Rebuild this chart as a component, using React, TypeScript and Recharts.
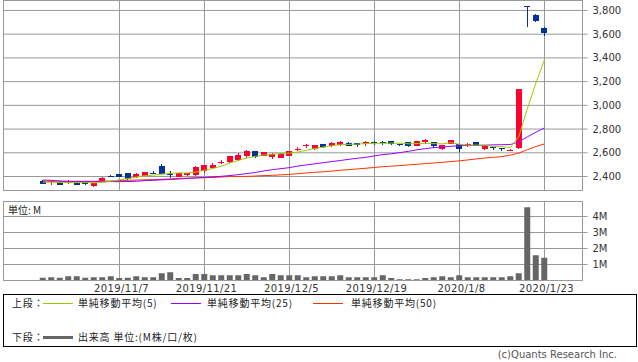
import React from 'react';
import {
  Bar,
  CartesianGrid,
  ComposedChart,
  Line,
  XAxis,
  YAxis,
} from 'recharts';

// trading days shown (10/24 .. 1/23)
const dates = [
  '2019/10/24', '2019/10/25', '2019/10/28', '2019/10/29', '2019/10/30', '2019/10/31', '2019/11/1', '2019/11/5', '2019/11/6', '2019/11/7',
  '2019/11/8', '2019/11/11', '2019/11/12', '2019/11/13', '2019/11/14', '2019/11/15', '2019/11/18', '2019/11/19', '2019/11/20', '2019/11/21',
  '2019/11/22', '2019/11/25', '2019/11/26', '2019/11/27', '2019/11/28', '2019/11/29', '2019/12/2', '2019/12/3', '2019/12/4', '2019/12/5',
  '2019/12/6', '2019/12/9', '2019/12/10', '2019/12/11', '2019/12/12', '2019/12/13', '2019/12/16', '2019/12/17', '2019/12/18', '2019/12/19',
  '2019/12/20', '2019/12/23', '2019/12/24', '2019/12/25', '2019/12/26', '2019/12/27', '2019/12/30', '2020/1/6', '2020/1/7', '2020/1/8',
  '2020/1/9', '2020/1/10', '2020/1/14', '2020/1/15', '2020/1/16', '2020/1/17', '2020/1/20', '2020/1/21', '2020/1/22', '2020/1/23',
];

const opens = [
  2366, 2360, 2355, 2343, 2349, 2351, 2318, 2358, 2406, 2420,
  2428, 2394, 2406, 2433, 2487, 2422, 2398, 2409, 2412, 2444,
  2473, 2519, 2521, 2541, 2569, 2611, 2577, 2563, 2558, 2575,
  2632, 2660, 2634, 2670, 2656, 2662, 2685, 2681, 2670, 2687,
  2687, 2696, 2673, 2687, 2657, 2687, 2687, 2628, 2676, 2670,
  2668, 2687, 2634, 2645, 2638, 2624, 2639, 3836, 3760, 3653,
];
const highs = [
  2370, 2372, 2358, 2368, 2352, 2353, 2346, 2392, 2415, 2423,
  2432, 2430, 2440, 2443, 2506, 2450, 2432, 2431, 2488, 2496,
  2510, 2535, 2573, 2595, 2620, 2615, 2608, 2595, 2596, 2618,
  2650, 2677, 2668, 2673, 2690, 2703, 2688, 2684, 2702, 2700,
  2700, 2700, 2676, 2690, 2700, 2718, 2690, 2665, 2708, 2675,
  2686, 2690, 2665, 2648, 2640, 2635, 3137, 3840, 3770, 3661,
];
const lows = [
  2338, 2330, 2325, 2334, 2325, 2325, 2315, 2355, 2392, 2392,
  2372, 2385, 2403, 2419, 2420, 2388, 2396, 2405, 2408, 2428,
  2466, 2505, 2518, 2528, 2560, 2557, 2574, 2547, 2555, 2572,
  2618, 2643, 2620, 2638, 2650, 2659, 2653, 2648, 2660, 2665,
  2662, 2667, 2660, 2645, 2655, 2675, 2640, 2620, 2672, 2610,
  2645, 2655, 2622, 2625, 2612, 2618, 2636, 3661, 3700, 3585,
];
const closes = [
  2341, 2363, 2327, 2366, 2327, 2337, 2343, 2386, 2403, 2394,
  2375, 2417, 2436, 2430, 2425, 2419, 2429, 2428, 2484, 2493,
  2501, 2522, 2569, 2583, 2611, 2563, 2605, 2592, 2592, 2614,
  2634, 2662, 2662, 2648, 2681, 2693, 2656, 2668, 2690, 2684,
  2684, 2670, 2670, 2658, 2696, 2704, 2658, 2662, 2704, 2628,
  2671, 2658, 2662, 2642, 2635, 2627, 3135, 3830, 3712, 3611,
];
// volume, millions
const volumes = [
  0.17, 0.21, 0.17, 0.27, 0.27, 0.17, 0.21, 0.21, 0.27, 0.15,
  0.17, 0.27, 0.21, 0.21, 0.46, 0.52, 0.15, 0.15, 0.4, 0.4,
  0.33, 0.33, 0.33, 0.33, 0.4, 0.33, 0.21, 0.4, 0.33, 0.33,
  0.33, 0.21, 0.27, 0.27, 0.27, 0.33, 0.21, 0.21, 0.21, 0.21,
  0.33, 0.15, 0.08, 0.08, 0.08, 0.15, 0.21, 0.27, 0.21, 0.33,
  0.21, 0.21, 0.21, 0.21, 0.21, 0.27, 0.46, 4.58, 1.58, 1.42,
];
const ma5 = [
  2352, 2352, 2349, 2349, 2349, 2349, 2347, 2352, 2360, 2373,
  2382, 2396, 2406, 2412, 2420, 2426, 2430, 2430, 2438, 2453,
  2468, 2487, 2514, 2536, 2557, 2570, 2582, 2588, 2593, 2597,
  2607, 2621, 2637, 2648, 2660, 2669, 2671, 2673, 2678, 2680,
  2680, 2681, 2681, 2676, 2678, 2680, 2677, 2676, 2685, 2671,
  2665, 2664, 2664, 2652, 2651, 2645, 2740, 2975, 3190, 3385,
];
const ma25 = [
  2370, 2368, 2362, 2358, 2357, 2357, 2356, 2356, 2357, 2357,
  2358, 2360, 2365, 2368, 2372, 2375, 2379, 2384, 2388, 2392,
  2397, 2402, 2408, 2416, 2425, 2434, 2447, 2458, 2466, 2475,
  2488, 2498, 2507, 2517, 2526, 2535, 2545, 2554, 2562, 2574,
  2585, 2592, 2602, 2612, 2625, 2635, 2644, 2648, 2655, 2659,
  2662, 2662, 2664, 2667, 2668, 2670, 2692, 2735, 2774, 2810,
];
const ma50 = [
  2360, 2360, 2360, 2360, 2360, 2360, 2360, 2361, 2362, 2366,
  2368, 2370, 2372, 2374, 2376, 2380, 2384, 2386, 2388, 2390,
  2392, 2396, 2400, 2400, 2401, 2404, 2408, 2410, 2414, 2418,
  2424, 2430, 2436, 2440, 2446, 2453, 2458, 2464, 2470, 2476,
  2483, 2487, 2492, 2498, 2503, 2509, 2514, 2520, 2526, 2532,
  2540, 2548, 2556, 2562, 2568, 2580, 2598, 2627, 2653, 2675,
];

const dateTicks = [9, 19, 29, 39, 49, 59];
const priceTicks = [2400, 2600, 2800, 3000, 3200, 3400, 3600, 3800];
const volumeTicks = [1, 2, 3, 4];

const data = dates.map((date, i) => ({
  i,
  date,
  open: opens[i],
  high: highs[i],
  low: lows[i],
  close: closes[i],
  volume: volumes[i],
  ma5: ma5[i],
  ma25: ma25[i],
  ma50: ma50[i],
}));

const UP = '#ff0033';
const DOWN = '#003399';
const GRID = '#999999';
const X_DOMAIN: [number, number] = [-4.647, 63.471];

function Candle(props: any) {
  const { x, y, width, height, payload } = props;
  const { open, close, high, low } = payload;
  const color = close >= open ? UP : DOWN;
  const top = Math.min(y, y + height);
  const h = Math.abs(height);
  const ratio = h / (high - low);
  const yOf = (v: number) => top + (high - v) * ratio;
  const bodyTop = yOf(Math.max(open, close));
  const bodyBot = yOf(Math.min(open, close));
  const cx = Math.floor(x + width / 2);
  return (
    <g shapeRendering="crispEdges">
      <rect x={cx} y={top} width={1} height={h} fill={color} />
      <rect
        x={Math.round(x)}
        y={bodyTop}
        width={width}
        height={Math.max(1, bodyBot - bodyTop)}
        fill={color}
      />
    </g>
  );
}

const axisTick = { fontSize: 10, fill: '#333', fontFamily: 'DejaVu Sans' };

const legendText: React.CSSProperties = {
  position: 'absolute',
  fontSize: 10,
  letterSpacing: 0.8,
  fontFamily: '"Noto Sans CJK JP", sans-serif',
  color: '#222',
  lineHeight: '12px',
  whiteSpace: 'nowrap',
};

function Swatch({ left, top, color, thick }: { left: number; top: number; color: string; thick: number }) {
  return (
    <div
      style={{ position: 'absolute', left, top, width: 30, height: thick, background: color }}
    />
  );
}

export default function App() {
  return (
    <div
      style={{
        position: 'relative',
        width: 638,
        height: 362,
        background: '#fff',
        fontFamily: 'DejaVu Sans',
        overflow: 'hidden',
      }}
    >
      <style>{'body{margin:0}'}</style>

      {/* 上段: ローソク足 + 移動平均 */}
      <div style={{ position: 'absolute', left: 0, top: 0 }}>
        <ComposedChart
          width={638}
          height={191}
          data={data}
          margin={{ top: 0.5, right: 0, bottom: 0.5, left: 3.5 }}
        >
          <CartesianGrid stroke={GRID} />
          <XAxis
            dataKey="i"
            type="number"
            domain={X_DOMAIN}
            ticks={dateTicks}
            allowDataOverflow
            hide
          />
          <YAxis
            orientation="right"
            domain={[2282, 3884]}
            ticks={priceTicks}
            interval={0}
            allowDataOverflow
            width={55.5}
            axisLine={false}
            tickSize={5}
            tickMargin={5}
            tickLine={{ stroke: GRID }}
            tick={axisTick}
            tickFormatter={(v: number) => v.toLocaleString('en-US')}
          />
          <Bar
            dataKey={(d: any) => [d.low, d.high]}
            barSize={6}
            shape={<Candle />}
            isAnimationActive={false}
          />
          <Line type="linear" dataKey="ma50" stroke="#ff3300" strokeWidth={1} dot={false} isAnimationActive={false} />
          <Line type="linear" dataKey="ma25" stroke="#9900ff" strokeWidth={1} dot={false} isAnimationActive={false} />
          <Line type="linear" dataKey="ma5" stroke="#99cc00" strokeWidth={1} dot={false} isAnimationActive={false} />
        </ComposedChart>
      </div>
      <div
        style={{
          position: 'absolute',
          left: 3,
          top: 0,
          width: 580,
          height: 191,
          boxSizing: 'border-box',
          border: `1px solid ${GRID}`,
          pointerEvents: 'none',
        }}
      />

      {/* 下段: 出来高 */}
      <div style={{ position: 'absolute', left: 0, top: 200 }}>
        <ComposedChart
          width={638}
          height={96}
          data={data}
          margin={{ top: 1.5, right: 0, bottom: 0, left: 3.5 }}
        >
          <CartesianGrid stroke={GRID} />
          <XAxis
            dataKey="i"
            type="number"
            domain={X_DOMAIN}
            ticks={dateTicks}
            interval={0}
            allowDataOverflow
            height={15.5}
            axisLine={false}
            tickLine={false}
            tickSize={0}
            tickMargin={4}
            tick={{ ...axisTick, letterSpacing: 0.4, dx: 2 }}
            tickFormatter={(v: number) => dates[v]}
          />
          <YAxis
            orientation="right"
            domain={[0, 4.9375]}
            ticks={volumeTicks}
            interval={0}
            allowDataOverflow
            width={55.5}
            axisLine={false}
            tickSize={5}
            tickMargin={5}
            tickLine={{ stroke: GRID }}
            tick={axisTick}
            tickFormatter={(v: number) => `${v}M`}
          />
          <Bar dataKey="volume" barSize={6} fill="#666666" isAnimationActive={false} />
        </ComposedChart>
      </div>
      <div
        style={{
          position: 'absolute',
          left: 3,
          top: 201,
          width: 580,
          height: 80,
          boxSizing: 'border-box',
          border: `1px solid ${GRID}`,
          pointerEvents: 'none',
        }}
      />
      <div style={{ ...legendText, left: 8, top: 204, letterSpacing: 0 }}>単位: M</div>

      {/* 凡例 */}
      <div
        style={{
          position: 'absolute',
          left: 3,
          top: 294,
          width: 634,
          height: 53,
          boxSizing: 'border-box',
          border: '1px solid #000',
        }}
      />
      <div style={{ ...legendText, left: 12, top: 297 }}>上段：</div>
      <Swatch left={43} top={303} color="#99cc00" thick={1} />
      <div style={{ ...legendText, left: 78, top: 297 }}>単純移動平均(5)</div>
      <Swatch left={171} top={303} color="#9900ff" thick={1} />
      <div style={{ ...legendText, left: 207, top: 297 }}>単純移動平均(25)</div>
      <Swatch left={313} top={303} color="#ff3300" thick={1} />
      <div style={{ ...legendText, left: 351, top: 297 }}>単純移動平均(50)</div>

      <div style={{ ...legendText, left: 12, top: 331 }}>下段：</div>
      <Swatch left={43} top={336} color="#666666" thick={3} />
      <div style={{ ...legendText, left: 78, top: 331 }}>出来高 単位:(M株/口/枚)</div>

      <div
        style={{
          position: 'absolute',
          right: 21,
          top: 349,
          fontSize: 10,
          lineHeight: '12px',
          color: '#555',
          fontFamily: 'DejaVu Sans',
        }}
      >
        (c)Quants Research Inc.
      </div>
    </div>
  );
}
